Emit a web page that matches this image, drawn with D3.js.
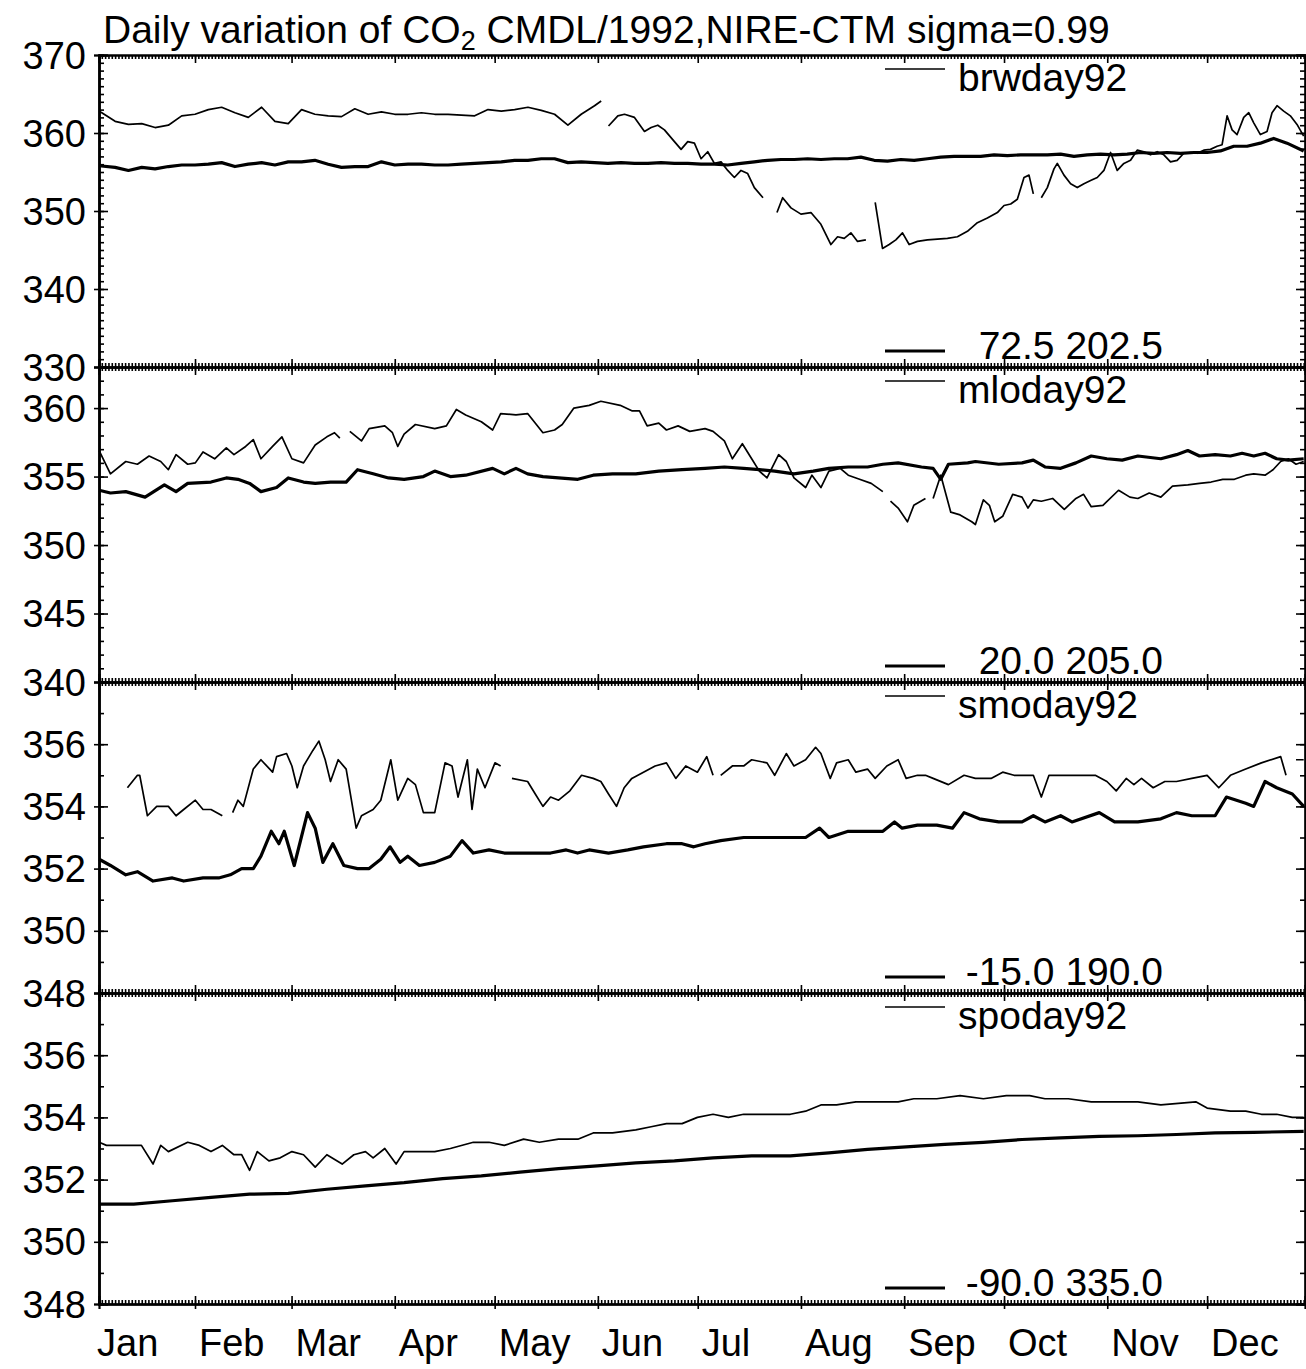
<!DOCTYPE html>
<html><head><meta charset="utf-8">
<script src="https://cdn.jsdelivr.net/npm/d3@7/dist/d3.min.js"></script>
<style>
html,body{margin:0;padding:0;background:#fff;}
svg{display:block;}
text{font-family:"Liberation Sans",Arial,Helvetica,sans-serif;fill:#000;}
</style></head>
<body><svg id="chart" width="1306" height="1369"></svg>
<script>
// ---------- DATA ----------
const titleMain = "Daily variation of CO";
const titleSub = "2";
const titleRest = " CMDL/1992,NIRE-CTM sigma=0.99";
const monthLabels = ["Jan","Feb","Mar","Apr","May","Jun","Jul","Aug","Sep","Oct","Nov","Dec"];
const monthStartDays = [0,31,60,91,121,152,182,213,244,274,305,335];
const dayRange = [2.16, 364.4];
const stationNames = ["brwday92","mloday92","smoday92","spoday92"];
const stationLatLon = ["72.5 202.5","20.0 205.0","-15.0 190.0","-90.0 335.0"];
const yDomains = [[330,370],[340,363],[348,358],[348,358]];
const yTickLabels = [[330,340,350,360,370],[340,345,350,355,360],[348,350,352,354,356],[348,350,352,354,356]];

// observed daily CO2 (thin lines), [day of year, ppm]; null = gap
const brwObs = [[2.2,362.8],[3,362.6],[7,361.5],[11,361.1],[15,361.2],[19,360.7],[23,361.0],[27,362.2],[31,362.4],[35,363.0],[39,363.3],[43,362.6],[47,362.0],[51,363.3],[55,361.5],[59,361.2],[63,363.0],[67,362.4],[71,362.2],[75,362.1],[79,363.1],[83,362.4],[87,362.7],[91,362.4],[95,362.4],[99,362.6],[103,362.4],[107,362.4],[111,362.3],[115,362.2],[119,363.0],[123,362.8],[127,363.0],[131,363.3],[135,362.9],[139,362.4],[143,361.0],[147,362.4],[151,363.5],[153,364.1],[154,null],
[155.2,360.9],[158,362.2],[160,362.4],[163,362.0],[166,360.2],[168,360.7],[170,361.0],[172,360.4],[175,358.9],[177,357.9],[179,358.9],[181,358.7],[183,356.7],[185,357.6],[187,356.1],[189,356.3],[191,355.2],[193,354.3],[195,355.2],[197,354.8],[199,353.0],[201.6,351.7],[203,null],
[205.8,349.8],[207.5,351.7],[210,350.4],[213,349.6],[216,349.8],[219,348.3],[222,345.7],[224,346.7],[226,346.5],[228,347.2],[230,346.1],[232.5,346.3],[234,null],
[235.3,351.1],[237.5,345.2],[239.5,345.7],[241.5,346.3],[243.5,347.2],[245.5,345.7],[248,346.1],[251,346.3],[254,346.4],[257,346.5],[260,346.7],[263,347.4],[266,348.5],[269,349.1],[272,349.8],[274,350.7],[276,350.9],[278,351.5],[280,354.3],[281.5,354.6],[282.8,352.2],[284,null],
[285.2,351.7],[287,353.0],[289,355.4],[290,356.1],[292,354.6],[294,353.5],[296,353.0],[298,353.5],[300,353.9],[302,354.3],[304,355.2],[306,357.5],[308,355.2],[310,356.1],[312,356.5],[314,357.8],[316,357.6],[318,357.2],[320,357.6],[322,357.2],[324,356.3],[326,356.5],[328,357.4],[330,357.5],[332,357.4],[334,357.8],[336,357.9],[338,358.3],[339.5,358.5],[341,362.2],[342.5,360.4],[344,359.8],[346,362.0],[347.5,362.6],[349,361.3],[351,359.8],[353,360.2],[354.5,362.6],[356,363.5],[358,362.8],[360,362.2],[362,361.1],[364,359.6]];

const mloObs = [[2.2,356.9],[5.6,355.2],[10.2,356.1],[13.7,355.9],[17.2,356.5],[20.7,356.1],[23.0,355.5],[25.3,356.6],[28.8,355.9],[31.1,356.0],[33.4,356.8],[36.9,356.3],[40.4,357.1],[42.7,356.6],[46.2,357.2],[48.5,357.7],[50.8,356.3],[54.3,357.2],[57.1,357.9],[60.1,356.3],[63.6,356.0],[67.1,357.3],[70.6,357.9],[72.9,358.2],[74.5,357.8],[75.5,null],
[77.5,358.3],[81.0,357.6],[83.3,358.5],[88.0,358.7],[90.3,358.2],[91.9,357.2],[93.8,358.1],[97.2,358.8],[103.0,358.5],[106.5,358.7],[109.5,359.9],[112.3,359.5],[117.0,359.0],[120.4,358.4],[122.8,359.6],[127.4,359.5],[130.9,359.6],[135.5,358.2],[139.0,358.4],[141.3,358.8],[144.8,360.0],[149.4,360.2],[152.9,360.5],[158.7,360.2],[162.2,359.8],[164.5,359.8],[166.8,358.7],[170.3,358.9],[172.6,358.4],[176.1,358.7],[179.6,358.3],[184.2,358.5],[186.6,358.3],[190.0,357.6],[192.4,356.3],[195.4,357.4],[198.2,356.3],[200.5,355.4],[202.8,354.9],[206.3,356.6],[208.6,356.1],[210.9,354.9],[214.4,354.2],[216.3,355.1],[219.0,354.2],[221.4,355.4],[224.8,355.6],[227.2,355.1],[230.6,354.8],[234.1,354.5],[237.6,353.9],[238.6,null],
[239.9,353.2],[242.2,352.7],[245.0,351.7],[246.9,352.9],[250.4,353.4],[251.5,null],
[252.7,353.4],[255.0,355.1],[258.0,352.4],[260.8,352.2],[264.3,351.7],[265.4,351.5],[267.8,353.3],[269.6,352.9],[271.2,351.7],[273.6,352.1],[276.6,353.7],[279.4,353.5],[281.2,352.7],[282.8,353.3],[285.2,353.2],[288.6,353.4],[292.1,352.6],[295.6,353.4],[297.9,353.7],[300.2,352.8],[303.7,352.9],[308.4,354.0],[311.8,353.5],[314.2,353.4],[317.6,353.8],[321.1,353.5],[324.6,354.3],[329.2,354.4],[332.7,354.5],[336.2,354.6],[339.7,354.8],[343.2,354.8],[346.6,355.1],[349.0,355.2],[352.4,355.1],[354.8,355.5],[357.1,356.1],[359.4,356.3],[361.7,355.9],[364.0,356.1]];

const smoObs = [[10.7,354.6],[13.7,355.0],[14.4,355.0],[16.7,353.7],[19.5,354.0],[23.0,354.0],[25.3,353.7],[27.6,353.9],[31.1,354.2],[33.4,353.9],[35.8,353.9],[39.2,353.7],[40.5,null],
[42.3,353.8],[43.9,354.2],[45.5,354.0],[48.5,355.2],[50.8,355.5],[54.3,355.1],[55.5,355.6],[58.5,355.7],[60.1,355.3],[61.7,354.6],[63.6,355.3],[66.4,355.8],[68.2,356.1],[70.1,355.5],[71.7,354.8],[74.0,355.5],[76.4,355.2],[79.4,353.3],[81.0,353.7],[84.5,353.9],[86.8,354.2],[89.8,355.5],[91.9,354.2],[94.9,354.9],[97.2,354.7],[99.6,353.8],[103.0,353.8],[106.1,355.4],[108.2,355.3],[110.0,354.3],[112.8,355.5],[114.2,353.9],[115.8,355.2],[118.1,354.6],[121.1,355.4],[122.8,355.3],[124.5,null],
[126.2,354.9],[130.9,354.8],[133.2,354.4],[135.5,354.0],[137.8,354.3],[140.2,354.2],[143.6,354.5],[147.1,355.0],[150.6,354.9],[152.9,354.8],[155.2,354.4],[157.6,354.0],[159.9,354.6],[162.2,354.9],[165.7,355.1],[169.2,355.3],[172.6,355.4],[175.4,354.9],[178.4,355.3],[181.9,355.1],[184.7,355.6],[186.6,355.0],[187.7,null],
[188.9,355.0],[192.4,355.3],[195.8,355.3],[198.2,355.5],[202.8,355.4],[205.1,355.0],[208.6,355.7],[210.9,355.3],[214.4,355.5],[217.4,355.9],[219.0,355.7],[221.8,354.9],[223.7,355.4],[227.2,355.5],[229.5,355.1],[233.0,355.2],[235.3,354.9],[238.8,355.3],[242.2,355.5],[244.6,354.9],[248.0,355.0],[250.4,355.0],[252.7,354.9],[257.3,354.7],[262.0,355.0],[265.4,354.9],[270.1,354.9],[273.6,355.1],[277.0,355.0],[280.5,355.0],[282.8,355.0],[285.2,354.3],[287.5,355.0],[291.0,355.0],[295.6,355.0],[301.4,355.0],[304.9,354.8],[307.7,354.5],[310.7,354.9],[313.0,354.7],[315.3,354.9],[318.8,354.6],[322.3,354.8],[325.8,354.8],[330.4,354.9],[335.0,355.0],[338.5,354.6],[342.0,355.0],[346.6,355.2],[351.3,355.4],[357.1,355.6],[358.7,355.0],[360,null],
[361.7,355.5],[364.0,355.5]];

const spoObs = [[2.2,353.2],[4.4,353.1],[10.2,353.1],[14.9,353.1],[18.4,352.5],[20.7,353.1],[23.0,352.9],[28.8,353.2],[32.3,353.1],[35.8,352.9],[39.2,353.1],[42.7,352.8],[45.0,352.8],[47.4,352.3],[49.7,352.9],[53.2,352.6],[56.6,352.7],[60.1,352.9],[63.6,352.8],[67.1,352.4],[70.6,352.8],[75.2,352.5],[78.7,352.8],[82.2,352.9],[84.5,352.7],[88.0,353.0],[91.4,352.5],[93.8,352.9],[98.4,352.9],[103.0,352.9],[107.7,353.0],[114.6,353.2],[119.3,353.2],[123.9,353.1],[129.7,353.3],[134.4,353.2],[140.2,353.3],[146.0,353.3],[150.6,353.5],[156.4,353.5],[163.4,353.6],[168.0,353.7],[172.6,353.8],[177.3,353.8],[181.9,354.0],[186.6,354.1],[191.2,354.0],[195.8,354.1],[202.8,354.1],[209.8,354.1],[214.4,354.2],[219.0,354.4],[223.7,354.4],[229.5,354.5],[235.3,354.5],[242.2,354.5],[246.9,354.6],[253.8,354.6],[260.8,354.7],[267.8,354.6],[274.7,354.7],[279.4,354.7],[281.7,354.7],[286.3,354.6],[293.3,354.6],[300.2,354.5],[307.2,354.5],[314.2,354.5],[321.1,354.4],[331.6,354.5],[335.0,354.3],[342.0,354.2],[346.6,354.2],[351.3,354.1],[355.9,354.1],[360.6,354.0],[364.0,354.0]];

// NIRE-CTM model daily CO2 (thick lines), [day of year, ppm]
const brwModel = [[2.2,355.8],[7,355.6],[11,355.2],[15,355.6],[19,355.4],[23,355.7],[27,355.9],[31,355.9],[35,356.0],[39,356.2],[43,355.7],[47,356.0],[51,356.2],[55,355.9],[59,356.3],[63,356.3],[67,356.5],[71,356.0],[75,355.6],[79,355.7],[83,355.7],[87,356.3],[91,355.9],[95,356.0],[99,356.0],[103,355.9],[107,355.9],[111,356.0],[115,356.1],[119,356.2],[123,356.3],[127,356.5],[131,356.5],[135,356.7],[139,356.7],[143,356.2],[147,356.3],[151,356.2],[155,356.1],[159,356.2],[163,356.1],[167,356.1],[171,356.2],[175,356.1],[179,356.1],[183,356.0],[187,356.0],[191,355.9],[195,356.1],[199,356.3],[203,356.5],[207,356.6],[211,356.6],[215,356.7],[219,356.6],[223,356.7],[227,356.7],[231,356.9],[235,356.5],[239,356.4],[243,356.6],[247,356.5],[251,356.7],[255,356.9],[259,357.0],[263,357.0],[267,357.0],[271,357.2],[275,357.1],[279,357.2],[283,357.2],[287,357.2],[291,357.3],[295,357.0],[299,357.2],[303,357.3],[307,357.2],[311,357.3],[315,357.5],[319,357.4],[323,357.5],[327,357.4],[331,357.5],[335,357.5],[339,357.7],[343,358.3],[347,358.3],[351,358.7],[355,359.3],[359,358.7],[364,357.7]];

const mloModel = [[2.2,354.0],[5.6,353.8],[10.2,353.9],[16.0,353.5],[21.8,354.4],[25.3,353.9],[28.8,354.5],[35.8,354.6],[40.4,354.9],[43.9,354.8],[47.4,354.5],[50.8,353.9],[55.5,354.2],[59.0,354.9],[63.6,354.6],[67.1,354.5],[71.7,354.6],[76.4,354.6],[79.8,355.5],[84.5,355.2],[89.1,354.9],[93.8,354.8],[99.6,355.0],[103.0,355.4],[107.7,355.0],[112.3,355.1],[120.4,355.6],[123.9,355.2],[127.4,355.6],[130.9,355.2],[135.5,355.0],[140.2,354.9],[146.0,354.8],[150.6,355.1],[156.4,355.2],[163.4,355.2],[170.3,355.4],[177.3,355.5],[184.2,355.6],[190.0,355.7],[195.8,355.6],[200.5,355.5],[205.1,355.4],[210.9,355.2],[216.7,355.4],[221.4,355.6],[227.2,355.7],[233.0,355.7],[237.6,355.9],[242.2,356.0],[249.2,355.7],[252.7,355.6],[255.0,354.8],[257.3,355.9],[263.1,356.0],[265.4,356.1],[272.4,355.9],[279.4,356.0],[282.8,356.2],[286.3,355.7],[291.0,355.6],[295.6,356.0],[300.2,356.5],[304.9,356.3],[309.5,356.2],[314.2,356.5],[321.1,356.3],[325.8,356.6],[329.2,356.9],[332.7,356.5],[337.4,356.6],[342.0,356.5],[345.5,356.7],[349.0,356.5],[352.4,356.7],[355.9,356.3],[359.4,356.2],[364.0,356.3]];

const smoModel = [[2.2,352.3],[5.6,352.1],[10.2,351.8],[13.7,351.9],[18.4,351.6],[24.2,351.7],[27.6,351.6],[33.4,351.7],[38.1,351.7],[41.6,351.8],[45.0,352.0],[48.5,352.0],[50.8,352.4],[53.9,353.2],[56.2,352.8],[57.8,353.2],[60.8,352.1],[64.8,353.8],[67.1,353.3],[69.4,352.2],[72.4,352.8],[75.7,352.1],[79.8,352.0],[83.3,352.0],[86.8,352.3],[89.6,352.7],[92.6,352.2],[94.9,352.4],[98.4,352.1],[103.0,352.2],[107.7,352.4],[111.2,352.9],[114.6,352.5],[119.3,352.6],[123.9,352.5],[130.9,352.5],[137.8,352.5],[142.5,352.6],[145.9,352.5],[149.4,352.6],[155.2,352.5],[161.0,352.6],[165.7,352.7],[172.6,352.8],[177.3,352.8],[180.8,352.7],[184.2,352.8],[188.9,352.9],[195.8,353.0],[200.5,353.0],[207.4,353.0],[214.4,353.0],[218.6,353.3],[221.4,353.0],[227.2,353.2],[233.0,353.2],[237.6,353.2],[241.1,353.5],[243.4,353.3],[248.0,353.4],[253.8,353.4],[258.5,353.3],[262.0,353.8],[266.6,353.6],[272.4,353.5],[279.4,353.5],[282.8,353.7],[286.3,353.5],[291.0,353.7],[294.4,353.5],[302.6,353.8],[307.2,353.5],[314.2,353.5],[321.1,353.6],[325.8,353.8],[330.4,353.7],[337.4,353.7],[340.8,354.3],[346.6,354.1],[349.0,354.0],[352.4,354.8],[355.9,354.6],[360.6,354.4],[364.0,354.0]];

const spoModel = [[2.2,351.21],[12.6,351.21],[24.2,351.32],[35.8,351.43],[47.4,351.53],[59.0,351.56],[70.6,351.69],[82.2,351.80],[93.8,351.90],[105.4,352.03],[117.0,352.12],[128.6,352.24],[140.2,352.35],[151.8,352.44],[163.4,352.54],[175.0,352.60],[186.6,352.70],[198.2,352.76],[209.8,352.76],[221.4,352.86],[233.0,352.97],[244.6,353.05],[256.2,353.13],[267.8,353.20],[279.4,353.29],[291.0,353.34],[302.6,353.39],[314.2,353.41],[325.8,353.45],[337.4,353.50],[349.0,353.52],[364.0,353.55]];

const obsSeries = [brwObs, mloObs, smoObs, spoObs];
const modelSeries = [brwModel, mloModel, smoModel, spoModel];

// ---------- DRAW ----------
const svg = d3.select("#chart");
const L = 99, R = 1305;
const panelTops = [55, 367, 682, 993];
const panelBottoms = [367, 682, 993, 1304];
const FS = 38;

const x = d3.scaleLinear().domain(dayRange).range([L, R]);
const dailyTicks = d3.range(3, 365, 1);
const monthTicks = monthStartDays.filter(d => d >= dayRange[0]);

function styleAxis(g, w) {
  g.select(".domain").attr("stroke", "#000").attr("stroke-width", w);
  g.selectAll(".tick line").attr("stroke", "#000").attr("stroke-width", 1.6);
  g.selectAll(".tick text").remove();
}

stationNames.forEach((name, i) => {
  const top = panelTops[i], bot = panelBottoms[i];
  const y = d3.scaleLinear().domain(yDomains[i]).range([bot, top]);
  const g = svg.append("g");
  const minorY = d3.range(Math.ceil(yDomains[i][0]), Math.floor(yDomains[i][1]) + 1, 1);

  // x axes (bottom and top of each panel)
  [[bot, d3.axisBottom], [top, d3.axisTop]].forEach(([yy, ax]) => {
    g.append("g").attr("transform", `translate(0,${yy})`)
      .call(ax(x).tickValues(dailyTicks).tickSize(-4).tickFormat(""))
      .call(s => styleAxis(s, 2.2));
    g.append("g").attr("transform", `translate(0,${yy})`)
      .call(ax(x).tickValues(monthTicks).tickSize(-8).tickFormat(""))
      .call(s => styleAxis(s, 2.2));
  });

  // y axes
  g.append("g").attr("transform", `translate(${L},0)`)
    .call(d3.axisLeft(y).tickValues(minorY).tickSize(-5).tickFormat(""))
    .call(s => styleAxis(s, 2.2));
  g.append("g").attr("transform", `translate(${L},0)`)
    .call(d3.axisLeft(y).tickValues(yTickLabels[i]).tickSize(-9).tickFormat(""))
    .call(s => styleAxis(s, 2.2));
  g.append("g").attr("transform", `translate(${L},0)`)
    .call(d3.axisLeft(y).tickValues(yTickLabels[i]).tickSize(5).tickFormat(""))
    .call(s => styleAxis(s, 2.2));
  g.append("g").attr("transform", `translate(${R},0)`)
    .call(d3.axisRight(y).tickValues(minorY).tickSize(-5).tickFormat(""))
    .call(s => styleAxis(s, 2.2));
  g.append("g").attr("transform", `translate(${R},0)`)
    .call(d3.axisRight(y).tickValues(yTickLabels[i]).tickSize(-9).tickFormat(""))
    .call(s => styleAxis(s, 2.2));

  // y labels
  g.selectAll("text.ylab").data(yTickLabels[i]).enter().append("text")
    .attr("class", "ylab")
    .attr("x", 86).attr("y", d => y(d)).attr("dy", "0.36em")
    .attr("text-anchor", "end").attr("font-size", FS)
    .text(d => d3.format("d")(d));

  // data lines
  const line = d3.line().defined(p => p[1] !== null)
    .x(p => x(p[0])).y(p => y(p[1]));
  g.append("path").datum(modelSeries[i]).attr("d", line)
    .attr("fill", "none").attr("stroke", "#000").attr("stroke-width", 3.2)
    .attr("stroke-linejoin", "round");
  g.append("path").datum(obsSeries[i]).attr("d", line)
    .attr("fill", "none").attr("stroke", "#000").attr("stroke-width", 1.7)
    .attr("stroke-linejoin", "round");

  // legend
  g.append("line").attr("x1", 885).attr("x2", 945)
    .attr("y1", top + 14).attr("y2", top + 14)
    .attr("stroke", "#000").attr("stroke-width", 1.7);
  g.append("text").attr("x", 958).attr("y", top + 36)
    .attr("font-size", 39).text(name);
  g.append("line").attr("x1", 885).attr("x2", 945)
    .attr("y1", bot - 16).attr("y2", bot - 16)
    .attr("stroke", "#000").attr("stroke-width", 3.2);
  g.append("text").attr("x", 1163).attr("y", bot - 8)
    .attr("text-anchor", "end").attr("font-size", 39).text(stationLatLon[i]);
});

// outward major x ticks below the bottom axis
svg.append("g").attr("transform", `translate(0,${panelBottoms[3]})`)
  .call(d3.axisBottom(x).tickValues(monthTicks).tickSize(5).tickFormat(""))
  .call(s => styleAxis(s, 2.2));

// month labels
svg.selectAll("text.mlab").data(monthLabels).enter().append("text")
  .attr("class", "mlab")
  .attr("x", (d, i) => Math.max(x(monthStartDays[i]) + 4, L - 2))
  .attr("y", 1356).attr("font-size", FS).text(d => d);

// title
const t = svg.append("text").attr("x", 103).attr("y", 43).attr("font-size", 39);
t.append("tspan").text(titleMain);
t.append("tspan").attr("font-size", 27).attr("dy", 7).text(titleSub);
t.append("tspan").attr("dy", -7).text(titleRest);
</script>
</body></html>
